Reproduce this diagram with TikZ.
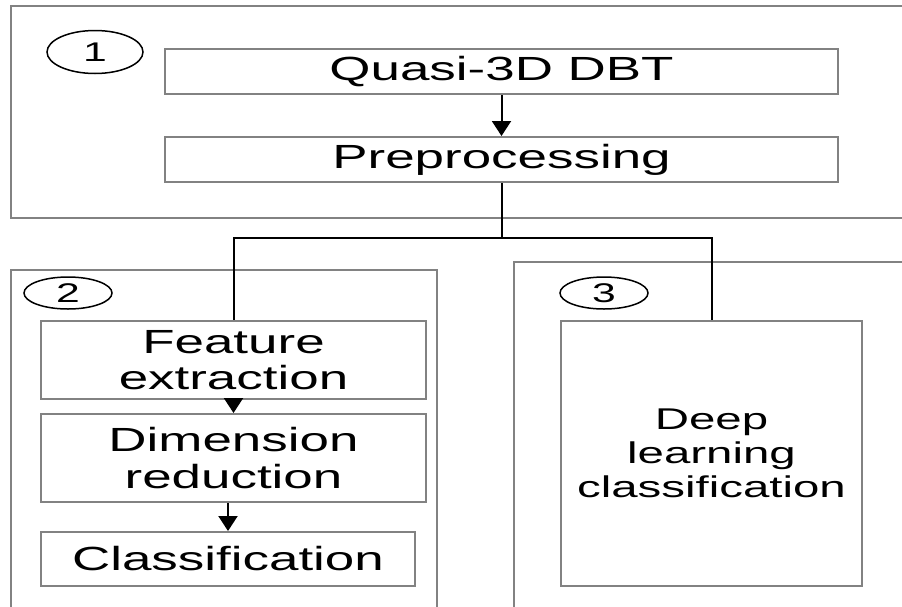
\documentclass[tikz,border=0pt]{standalone}
\usepackage{fontspec}
\setmainfont[FakeStretch=1.58]{Liberation Sans}
\usetikzlibrary{arrows.meta,shapes.geometric}
\definecolor{framegray}{RGB}{130,130,130}
\tikzset{
  group/.style={draw=framegray, line width=2pt, rectangle, inner sep=0pt},
  stepbox/.style={draw=framegray, line width=2pt, rectangle, inner sep=0pt,
    align=center, font=\fontsize{33.5}{36.5}\selectfont},
  tag/.style={draw=black, line width=1.5pt, ellipse, inner sep=0pt,
    font=\fontsize{27}{30}\selectfont},
  link/.style={draw=black, line width=2pt},
  arr/.style={link, -{Triangle[width=19pt,length=15pt]}}
}
\begin{document}
\begin{tikzpicture}[x=1pt, y=-1pt]
  \clip (0,0) rectangle (902,606);
  \fill[white] (0,0) rectangle (902,606);

  % stage frames (open towards the page edges)
  \node[group, minimum width=929pt, minimum height=212pt] (g1) at (475.5,112) {};
  \node[group, minimum width=426pt, minimum height=360pt] (g2) at (224,450) {};
  \node[group, minimum width=420pt, minimum height=380pt] (g3) at (724,452) {};

  % stage numbers
  \node[tag, minimum width=96pt, minimum height=43pt] (n1) at (95,52) {1};
  \node[tag, minimum width=88pt, minimum height=32pt] (n2) at (68,293) {2};
  \node[tag, minimum width=88pt, minimum height=32pt] (n3) at (604,293) {3};

  % stage 1
  \node[stepbox, minimum width=673pt, minimum height=45pt] (quasi) at (501.5,71.5) {Quasi-3D DBT};
  \node[stepbox, minimum width=673pt, minimum height=45pt] (pre) at (501.5,159.5) {Preprocessing};

  % stage 2
  \node[stepbox, minimum width=385pt, minimum height=78pt] (feat) at (233.5,360) {Feature\\extraction};
  \node[stepbox, minimum width=385pt, minimum height=88pt] (dim) at (233.5,458) {Dimension\\reduction};
  \node[stepbox, minimum width=374pt, minimum height=54pt] (cls) at (228,559) {Classification};

  % stage 3
  \node[stepbox, minimum width=301pt, minimum height=265pt,
        font=\fontsize{30}{34}\selectfont] (deep) at (711.5,453.5) {Deep\\learning\\classification};

  % connectors
  \draw[arr] (quasi) -- (pre);
  \draw[link] (pre.south) -- ++(0,55) coordinate (split);
  \draw[link] (split) -| (feat.north);
  \draw[link] (split) -| (deep.north);
  \draw[arr] (feat) -- (dim);
  \draw[arr] (dim.south -| cls.north) -- (cls.north);
\end{tikzpicture}
\end{document}
